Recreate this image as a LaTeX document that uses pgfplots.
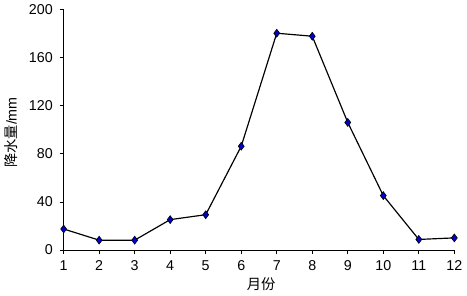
\documentclass[border=0pt]{standalone}
\usepackage{fontspec}
\setmainfont{Liberation Sans}
\newfontfamily\cjk{Noto Sans CJK SC}
\usepackage{pgfplots}
\pgfplotsset{compat=1.18}
\definecolor{mk}{RGB}{0,0,200}
\begin{document}
\begin{tikzpicture}
\fontsize{14.5}{17}\selectfont
\begin{axis}[
  at={(0,0)}, anchor=south west,
  scale only axis, width=395.7bp, height=243.3bp,
  xmin=1, xmax=12, ymin=0, ymax=200,
  axis x line*=bottom, axis y line*=left,
  axis line style={black, line width=0.9pt, -},
  xtick={1,...,12}, ytick={0,40,80,120,160,200},
  tick align=outside, major tick length=4bp,
  tick style={black, line width=0.9pt},
  /pgf/number format/assume math mode=true,
  ticklabel style={font=\fontsize{14.5}{17}\selectfont},
  yticklabel style={xshift=-2bp},
  xticklabel style={yshift=-2bp},
  clip=false,
]
\addplot[black, line width=1.2pt, mark=diamond*, mark size=4bp,
  mark options={fill=mk, draw=black, line width=0.6pt}]
  coordinates {(1,17.5) (2,8.2) (3,8.2) (4,25.3) (5,29.4) (6,86.4) (7,180.5) (8,178) (9,106.2) (10,45.3) (11,8.8) (12,10.1)};
\end{axis}
\node[rotate=90] at (-53bp,119bp) {\fontsize{14.5}{17}\selectfont{\cjk 降水量}/mm};
\node at (200bp,-35bp) {\fontsize{14.5}{17}\selectfont\cjk 月份};
\path[use as bounding box] (-63bp,-44bp) rectangle (404bp,250bp);
\end{tikzpicture}
\end{document}
